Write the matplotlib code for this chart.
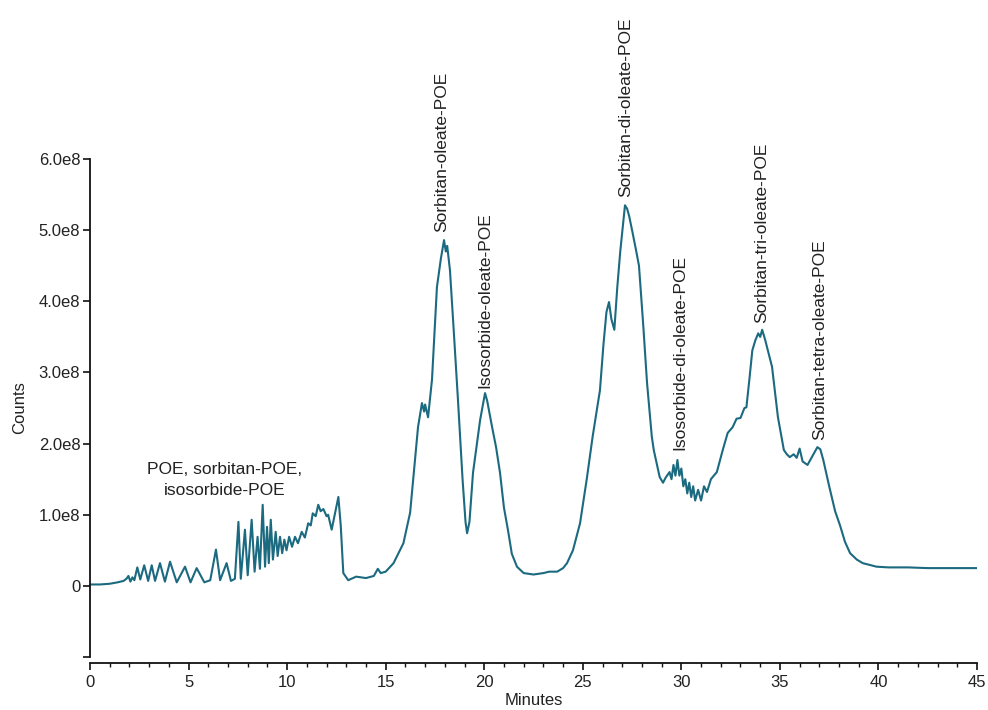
import matplotlib
matplotlib.use("Agg")
import matplotlib.pyplot as plt
from matplotlib.ticker import MultipleLocator, FuncFormatter

plt.rcParams['font.family'] = ['Liberation Sans', 'DejaVu Sans']

# retention time (minutes) and signal (counts, x1e8)
minutes = [
    0.0, 0.5, 1.0, 1.4, 1.7, 1.85, 1.95, 2.05, 2.15, 2.25, 2.4, 2.55, 2.75, 2.95,
    3.13, 3.3, 3.55, 3.8, 4.06, 4.4, 4.82, 5.1, 5.41, 5.8, 6.1, 6.39, 6.6, 6.93,
    7.15, 7.35, 7.53, 7.65, 7.86, 8.0, 8.2, 8.35, 8.5, 8.62, 8.76, 8.88, 8.98,
    9.07, 9.17, 9.28, 9.42, 9.52, 9.64, 9.75, 9.86, 9.97, 10.1, 10.25, 10.4,
    10.55, 10.74, 10.9, 11.07, 11.2, 11.3, 11.45, 11.58, 11.7, 11.84, 12.0,
    12.08, 12.26, 12.43, 12.6, 12.72, 12.85, 13.1, 13.5, 14.0, 14.4, 14.6,
    14.75, 15.0, 15.4, 15.9, 16.24, 16.49, 16.64, 16.84, 16.95, 17.0, 17.15,
    17.35, 17.6, 17.8, 17.96, 18.05, 18.12, 18.26, 18.45, 18.67, 18.9, 19.05,
    19.13, 19.25, 19.43, 19.79, 20.04, 20.15, 20.4, 20.6, 20.8, 21.0, 21.2,
    21.4, 21.66, 22.0, 22.5, 23.0, 23.3, 23.7, 24.0, 24.2, 24.5, 24.86, 25.2,
    25.5, 25.87, 26.05, 26.2, 26.33, 26.45, 26.6, 26.75, 26.9, 27.05, 27.14,
    27.25, 27.35, 27.5, 27.7, 27.85, 28.06, 28.26, 28.5, 28.6, 28.9, 29.07,
    29.2, 29.4, 29.5, 29.6, 29.7, 29.8, 29.9, 30.0, 30.1, 30.2, 30.3, 30.4,
    30.5, 30.6, 30.7, 30.85, 31.0, 31.15, 31.3, 31.5, 31.8, 32.1, 32.35, 32.6,
    32.8, 33.0, 33.2, 33.3, 33.45, 33.6, 33.75, 33.9, 34.0, 34.1, 34.25, 34.6,
    34.9, 35.2, 35.35, 35.5, 35.7, 35.85, 36.0, 36.15, 36.4, 36.6, 36.9, 37.05,
    37.2, 37.5, 37.8, 38.05, 38.3, 38.56, 38.9, 39.2, 39.9, 40.5, 41.5, 42.5,
    43.5, 45.0,
]
counts = [
    0.02, 0.02, 0.03, 0.05, 0.07, 0.10, 0.14, 0.06, 0.12, 0.08, 0.26, 0.09, 0.29, 0.07,
    0.29, 0.07, 0.32, 0.06, 0.34, 0.05, 0.27, 0.05, 0.25, 0.05, 0.08, 0.51, 0.08, 0.32,
    0.07, 0.10, 0.90, 0.10, 0.79, 0.15, 0.93, 0.20, 0.69, 0.24, 1.14, 0.27, 0.83,
    0.32, 0.93, 0.37, 0.76, 0.42, 0.69, 0.46, 0.65, 0.50, 0.69, 0.55, 0.69,
    0.60, 0.76, 0.68, 0.88, 0.85, 1.02, 0.98, 1.14, 1.05, 1.08, 0.98,
    1.00, 0.79, 1.02, 1.25, 0.85, 0.18, 0.08, 0.13, 0.11, 0.14, 0.24,
    0.18, 0.20, 0.32, 0.60, 1.03, 1.77, 2.23, 2.57, 2.45, 2.55, 2.37,
    2.90, 4.20, 4.60, 4.86, 4.70, 4.78, 4.44, 3.60, 2.60, 1.50, 0.90,
    0.74, 0.90, 1.59, 2.33, 2.71, 2.60, 2.23, 1.95, 1.59, 1.10, 0.79,
    0.45, 0.27, 0.18, 0.16, 0.18, 0.20, 0.20, 0.25, 0.32, 0.50, 0.88, 1.50,
    2.10, 2.75, 3.40, 3.85, 3.99, 3.75, 3.60, 4.20, 4.70, 5.10, 5.35,
    5.30, 5.20, 5.00, 4.72, 4.50, 3.69, 2.85, 2.10, 1.91, 1.53, 1.45,
    1.52, 1.60, 1.50, 1.70, 1.55, 1.77, 1.55, 1.65, 1.40, 1.50, 1.30, 1.45,
    1.25, 1.40, 1.20, 1.35, 1.20, 1.40, 1.32, 1.50, 1.60, 1.91, 2.15, 2.23,
    2.35, 2.36, 2.50, 2.51, 2.90, 3.31, 3.45, 3.55, 3.50, 3.60, 3.46, 3.08,
    2.37, 1.91, 1.85, 1.81, 1.85, 1.80, 1.93, 1.75, 1.70, 1.80, 1.95, 1.92,
    1.77, 1.40, 1.05, 0.85, 0.62, 0.46, 0.37, 0.32, 0.27, 0.26, 0.26, 0.25,
    0.25, 0.25,
]

# peak labels: text, time, height of label base (x1e8)
peak_names = ["Sorbitan-oleate-POE", "Isosorbide-oleate-POE", "Sorbitan-di-oleate-POE",
              "Isosorbide-di-oleate-POE", "Sorbitan-tri-oleate-POE", "Sorbitan-tetra-oleate-POE"]
peak_times = [17.86, 20.04, 27.2, 29.9, 34.1, 37.0]
peak_tops = [4.97, 2.78, 5.46, 1.91, 3.69, 2.05]

group_label = "POE, sorbitan-POE,\nisosorbide-POE"
yticks = [-1e8, 0, 1e8, 2e8, 3e8, 4e8, 5e8, 6e8]

line_col = '#1b6a80'
txt_col = '#222222'

fig = plt.figure(figsize=(9.88, 7.10), dpi=100)
ax = fig.add_axes([0.0911, 0.0746, 0.8978, 0.7014])

ax.plot(minutes, [c * 1e8 for c in counts], color=line_col, lw=1.5)

for name, t, top in zip(peak_names, peak_times, peak_tops):
    ax.text(t, top * 1e8, name, rotation=90, ha='center', va='bottom',
            fontsize=12.5, color=txt_col, clip_on=False)
ax.text(6.85, 1.49e8, group_label, ha='center', va='center', fontsize=12.5,
        color=txt_col, linespacing=1.45)

ax.set_xlim(0, 45)
ax.set_ylim(-1e8, 6e8)
ax.set_yticks(yticks)


def fmt(v, pos):
    if v == 0:
        return '0'
    if v < 0:
        return ''
    return '%.1fe8' % (v / 1e8)


ax.yaxis.set_major_formatter(FuncFormatter(fmt))
ax.xaxis.set_major_locator(MultipleLocator(5))
ax.xaxis.set_minor_locator(MultipleLocator(1))

for s in ['top', 'right']:
    ax.spines[s].set_visible(False)
ax.spines['bottom'].set_position(('outward', 4))
for s in ['left', 'bottom']:
    ax.spines[s].set_linewidth(1.3)
    ax.spines[s].set_color('#111111')

ax.tick_params(axis='both', which='major', direction='out', length=5, width=1.2,
               labelsize=12, labelcolor=txt_col, color='#111111')
ax.tick_params(axis='x', which='minor', direction='out', length=3, width=1.0, color='#111111')
ax.tick_params(axis='x', pad=4)
ax.tick_params(axis='y', pad=2)

ax.set_xlabel('Minutes', fontsize=12, color=txt_col, labelpad=2)
ax.set_ylabel('Counts', fontsize=12, color=txt_col, labelpad=8)

fig.savefig('out.png', dpi=100)
